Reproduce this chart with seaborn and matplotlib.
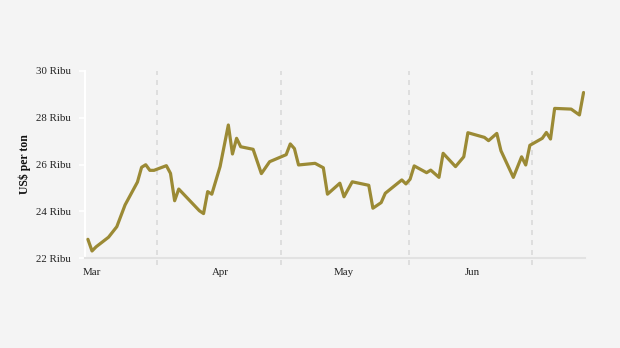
import matplotlib
matplotlib.use("Agg")
import matplotlib.pyplot as plt
import matplotlib.transforms as mtransforms
import seaborn as sns
import pandas as pd
import numpy as np

# ---- data ----
day_offsets = [-1, 0, 1, 4, 6, 8, 11, 12, 13, 14, 15, 18, 19, 20, 21, 26, 27, 28, 29, 31,
               33, 34, 35, 36, 39, 41, 43, 47, 48, 49, 50, 54, 56, 57, 60, 61, 63, 67, 68, 70,
               71, 75, 76, 77, 78, 81, 82, 84, 85, 88, 90, 91, 95, 96, 98, 99, 102, 104, 105, 106,
               109, 110, 111, 112, 116, 118, 119]
prices = [22.80, 22.30, 22.48, 22.89, 23.34, 24.27, 25.25, 25.88, 25.99, 25.75, 25.75, 25.95, 25.62,
          24.45, 24.95, 24.02, 23.90, 24.84, 24.73, 25.91,
          27.69, 26.45, 27.12, 26.76, 26.65, 25.61, 26.12, 26.42, 26.88, 26.68, 25.98, 26.05, 25.86,
          24.73, 25.20, 24.62, 25.26, 25.11, 24.13, 24.37,
          24.77, 25.34, 25.17, 25.37, 25.94, 25.65, 25.76, 25.45, 26.48, 25.91, 26.33, 27.36, 27.16,
          27.02, 27.33, 26.59, 25.45, 26.33, 25.98, 26.82,
          27.12, 27.37, 27.09, 28.40, 28.37, 28.12, 29.08]
start_date = "2024-03-01"
month_ticks = ["2024-03-01", "2024-04-01", "2024-05-01", "2024-06-01"]
month_labels = ["Mar", "Apr", "May", "Jun"]
grid_dates = ["2024-03-16 18:00", "2024-04-15 18:00", "2024-05-16 18:00", "2024-06-15 12:00"]
y_ticks = [22, 24, 26, 28, 30]
y_labels = ["22 Ribu", "24 Ribu", "26 Ribu", "28 Ribu", "30 Ribu"]
y_title = "US$ per ton"

dates = pd.Timestamp(start_date) + pd.to_timedelta(day_offsets, unit="D")
df = pd.DataFrame({"date": dates, "price": prices})

# ---- style ----
sns.set_theme(style="white")
plt.rcParams["font.family"] = ["Liberation Serif", "DejaVu Serif"]
bg = "#f4f4f4"
line_color = "#9b8a35"

fig = plt.figure(figsize=(6.2, 3.48), dpi=100, facecolor=bg)
ax = fig.add_axes([85 / 620, 1 - 258 / 348, 500 / 620, 187 / 348])
ax.set_facecolor(bg)

sns.lineplot(data=df, x="date", y="price", ax=ax, color=line_color, linewidth=2.3)

x0 = pd.Timestamp(start_date)
ax.set_xlim(x0 - pd.Timedelta(days=1.7), x0 + pd.Timedelta(days=119.35))
ax.set_ylim(22, 30)

ax.set_yticks(y_ticks)
ax.set_yticklabels(y_labels, fontsize=7.8, color="#222222")
ax.set_xticks(pd.to_datetime(month_ticks))
ax.set_xticklabels(month_labels, fontsize=7.8, color="#222222")

ax.tick_params(axis="y", length=4, width=1.2, color="white", pad=6, left=True)
ax.tick_params(axis="x", length=0, pad=7)

for s in ["top", "right"]:
    ax.spines[s].set_visible(False)
ax.spines["left"].set_color("white")
ax.spines["left"].set_linewidth(1.5)
ax.spines["bottom"].set_color("#e2e2e2")
ax.spines["bottom"].set_linewidth(1.5)

trans = mtransforms.blended_transform_factory(ax.transData, ax.transAxes)
for g in pd.to_datetime(grid_dates):
    ax.plot([g, g], [-0.035, 1.0], transform=trans, color="#dadada", lw=1.2,
            linestyle=(0, (3, 3)), clip_on=False, zorder=0)

ax.set_xlabel("")
ax.set_ylabel(y_title, fontsize=8.5, fontweight="bold", color="#111111", labelpad=4)

fig.savefig("out.png", dpi=100, facecolor=bg)
